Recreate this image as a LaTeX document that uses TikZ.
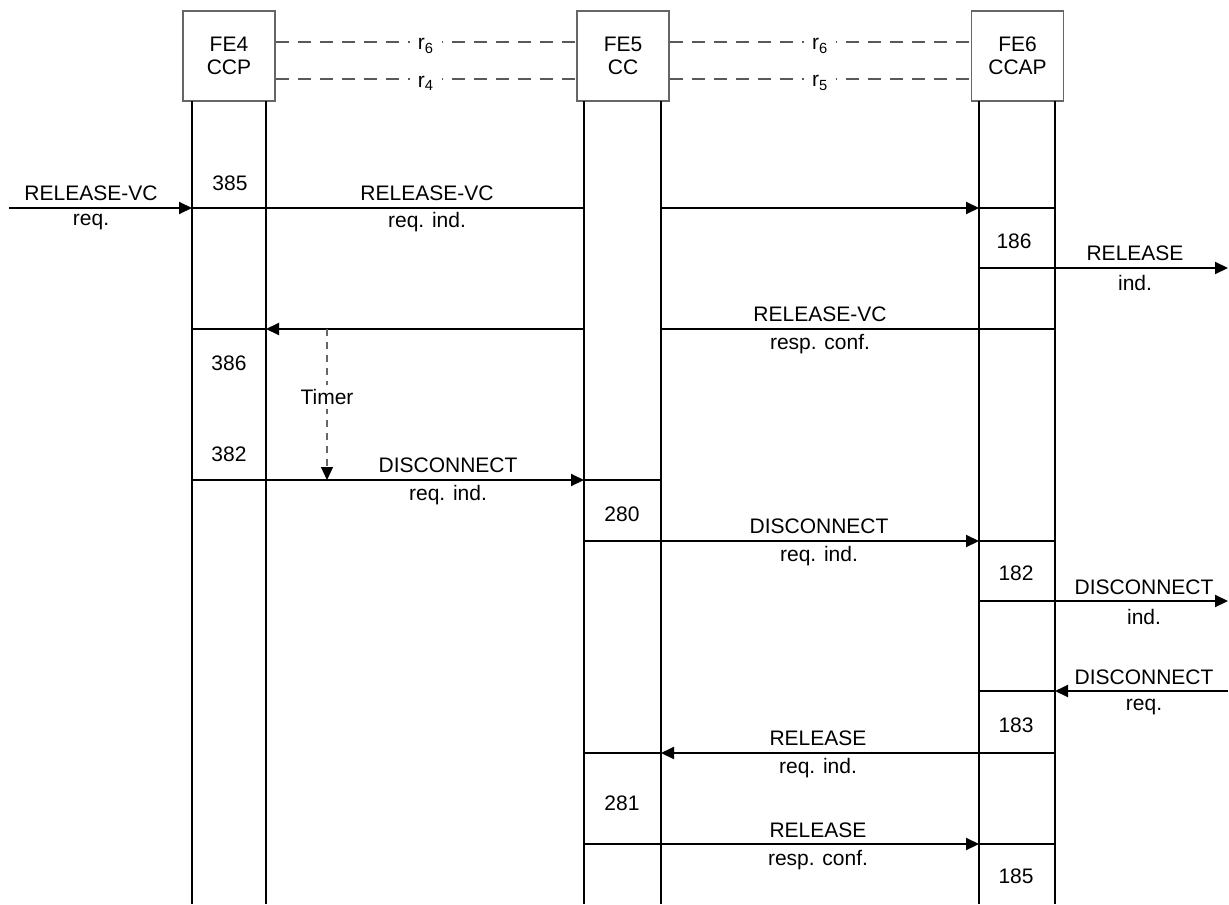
\documentclass[tikz,border=0pt]{standalone}
\usepackage{fontspec}
\setmainfont{Liberation Sans}
\usetikzlibrary{arrows.meta}

\begin{document}
\begin{tikzpicture}[x=0.5pt,y=-0.5pt,>={Triangle[length=6.5pt,width=6pt]},
  every node/.style={font=\fontsize{10.5}{11.5}\selectfont,inner sep=1pt},
  fe/.style={draw=black!60,line width=0.6pt,minimum width=46pt,minimum height=45pt,align=center},
  life/.style={line width=1pt},
  msg/.style={line width=1pt},
  iface/.style={draw=black!65,line width=0.6pt,dash pattern=on 6.5pt off 4.5pt},
  rlabel/.style={fill=white,inner xsep=4pt,inner ysep=1pt,yshift=-2pt},
  timer/.style={draw=black!60,line width=0.6pt,dash pattern=on 3.5pt off 3pt}]
  \useasboundingbox (0,0) rectangle (1229,904);

  % functional entities
  \node[fe] (fe4) at (229,56)    {FE4\\CCP};
  \node[fe] (fe5) at (623,56)    {FE5\\CC};
  \node[fe] (fe6) at (1017.5,56) {FE6\\CCAP};

  % relationships
  \draw[iface] ([yshift=7pt]fe4.east) -- node[rlabel] (r46) {r\textsubscript{6}} ([yshift=7pt]fe5.west);
  \draw[iface] ([yshift=-11.5pt]fe4.east) -- node[rlabel] (r4) {r\textsubscript{4}} ([yshift=-11.5pt]fe5.west);
  \draw[iface] ([yshift=7pt]fe5.east) -- node[rlabel] (r56) {r\textsubscript{6}} ([yshift=7pt]fe6.west);
  \draw[iface] ([yshift=-11.5pt]fe5.east) -- node[rlabel] (r5) {r\textsubscript{5}} ([yshift=-11.5pt]fe6.west);

  % life lines
  \foreach \n/\xa/\xb in {4/192/266,5/584/661,6/979/1055}{
    \coordinate (a\n) at (\xa,101);
    \coordinate (b\n) at (\xb,101);
    \draw[life] (a\n) -- ++(0,803);
    \draw[life] (b\n) -- ++(0,803);
  }

  % message levels
  \coordinate (in1) at (9,208);
  \coordinate (out2) at (1228,268);
  \coordinate (m3) at (0,329);
  \coordinate (m4) at (0,480);
  \coordinate (m5) at (0,541);
  \coordinate (out6) at (1228,601);
  \coordinate (in7) at (1228,691);
  \coordinate (m8) at (0,753);
  \coordinate (m9) at (0,844);

  % RELEASE-VC req.
  \draw[msg,->] (in1) -- (a4 |- in1);
  \draw[msg] (a4 |- in1) -- (a5 |- in1);
  \draw[msg,->] (b5 |- in1) -- (a6 |- in1);
  \draw[msg] (a6 |- in1) -- (b6 |- in1);
  \node (t1a) at (91,193) {RELEASE-VC};
  \node (t1b) at (91,222) {req.};
  \node (t1c) at (427,193) {RELEASE-VC};
  \node (t1d) at (427,222) {req. ind.};

  % RELEASE ind.
  \draw[msg,->] (a6 |- out2) -- (out2);
  \node (t2a) at (1135,253) {RELEASE};
  \node (t2b) at (1135,283) {ind.};

  % RELEASE-VC resp. conf.
  \draw[msg] (b6 |- m3) -- (b5 |- m3);
  \draw[msg,->] (a5 |- m3) -- (b4 |- m3);
  \draw[msg] (b4 |- m3) -- (a4 |- m3);
  \node (t3a) at (820,314) {RELEASE-VC};
  \node (t3b) at (820,344) {resp. conf.};

  % timer
  \coordinate (tm) at (327,0);
  \draw[timer,->,>={Triangle[length=6.5pt,width=6pt,color=black]}] (tm |- m3) -- (tm |- m4);
  \node[fill=white,inner sep=2pt] (tmr) at (327,397) {Timer};

  % DISCONNECT FE4 -> FE5
  \draw[msg,->] (a4 |- m4) -- (a5 |- m4);
  \draw[msg] (a5 |- m4) -- (b5 |- m4);
  \node (t4a) at (448,465) {DISCONNECT};
  \node (t4b) at (448,495) {req. ind.};

  % DISCONNECT FE5 -> FE6
  \draw[msg,->] (a5 |- m5) -- (a6 |- m5);
  \draw[msg] (a6 |- m5) -- (b6 |- m5);
  \node (t5a) at (819,526) {DISCONNECT};
  \node (t5b) at (819,556) {req. ind.};

  % DISCONNECT ind.
  \draw[msg,->] (a6 |- out6) -- (out6);
  \node (t6a) at (1144,587) {DISCONNECT};
  \node (t6b) at (1144,617) {ind.};

  % DISCONNECT req.
  \draw[msg,->] (in7) -- (b6 |- in7);
  \draw[msg] (b6 |- in7) -- (a6 |- in7);
  \node (t7a) at (1144,677) {DISCONNECT};
  \node (t7b) at (1144,707) {req.};

  % RELEASE req. ind.
  \draw[msg] (a5 |- m8) -- (b5 |- m8);
  \draw[msg,->] (b6 |- m8) -- (b5 |- m8);
  \node (t8a) at (818,738) {RELEASE};
  \node (t8b) at (818,768) {req. ind.};

  % RELEASE resp. conf.
  \draw[msg,->] (a5 |- m9) -- (a6 |- m9);
  \draw[msg] (a6 |- m9) -- (b6 |- m9);
  \node (t9a) at (818,830) {RELEASE};
  \node (t9b) at (818,860) {resp. conf.};

  % procedure numbers
  \node (p385) at (230,183) {385};
  \node (p386) at (229,363) {386};
  \node (p382) at (229,454) {382};
  \node (p280) at (622,514) {280};
  \node (p281) at (622,803) {281};
  \node (p186) at (1014,241) {186};
  \node (p182) at (1016,573) {182};
  \node (p183) at (1016,725) {183};
  \node (p185) at (1016,876) {185};
\end{tikzpicture}
\end{document}
